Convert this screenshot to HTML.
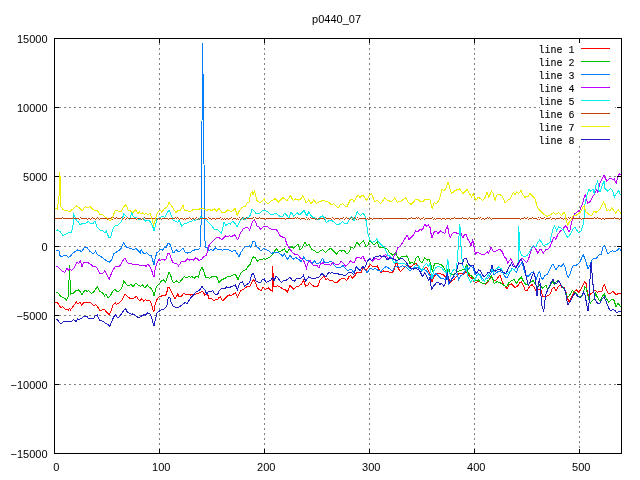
<!DOCTYPE html>
<html><head><meta charset="utf-8"><title>p0440_07</title>
<style>
html,body{margin:0;padding:0;background:#fff;}
body{width:640px;height:480px;overflow:hidden;}
svg{display:block;}
text{font-family:"Liberation Sans",sans-serif;font-size:11px;fill:#000;}
.lg{font-family:"Liberation Mono",monospace;font-size:11.5px;stroke:#000;stroke-width:0.12;}
</style></head><body>
<svg width="640" height="480" viewBox="0 0 640 480">
<rect width="640" height="480" fill="#fff"/>
<g shape-rendering="crispEdges" stroke="#808080" stroke-width="1" stroke-dasharray="2 3" fill="none">
<line x1="54" y1="107.5" x2="622" y2="107.5"/>
<line x1="54" y1="176.5" x2="622" y2="176.5"/>
<line x1="54" y1="246.5" x2="622" y2="246.5"/>
<line x1="54" y1="315.5" x2="622" y2="315.5"/>
<line x1="54" y1="384.5" x2="622" y2="384.5"/>
<line x1="159.5" y1="38" x2="159.5" y2="454"/>
<line x1="264.5" y1="38" x2="264.5" y2="454"/>
<line x1="369.5" y1="38" x2="369.5" y2="454"/>
<line x1="474.5" y1="38" x2="474.5" y2="454"/>
<line x1="579.5" y1="146" x2="579.5" y2="454"/>
</g>
<rect x="540" y="39" width="75" height="107" fill="#fff" shape-rendering="crispEdges"/>
<g shape-rendering="crispEdges" fill="none" stroke-width="1" stroke-linejoin="miter">
<polyline stroke="#ff0000" points="55.5,303.0 57.0,302.0 58.9,304.9 60.8,307.4 62.6,306.8 65.1,309.0 67.0,309.0 68.2,310.2 69.5,308.6 70.5,309.9 72.0,308.0 73.9,305.5 76.4,301.8 78.0,304.2 80.1,302.0 81.8,305.5 83.9,302.0 90.1,302.0 93.2,305.2 95.8,304.9 97.6,306.8 100.1,310.8 102.0,309.9 103.9,309.0 106.4,311.8 109.2,314.9 111.4,309.9 113.2,304.9 115.1,302.8 116.4,304.2 118.9,303.0 121.4,300.8 123.2,297.4 125.1,294.0 127.0,296.1 129.5,298.0 131.4,298.6 133.0,298.8 134.9,297.1 136.8,296.8 138.6,299.6 139.9,300.9 141.8,298.8 143.6,300.9 145.5,299.6 147.4,300.9 149.9,300.9 151.8,304.6 153.0,310.2 154.0,311.5 155.2,304.0 156.8,299.6 159.0,297.1 161.1,296.2 163.2,295.0 164.9,295.9 166.5,294.0 167.8,287.8 169.2,287.1 171.1,291.5 173.0,295.2 175.2,298.8 177.8,294.0 179.2,297.1 181.8,295.9 184.0,293.0 186.1,295.0 188.0,294.0 190.5,295.0 193.0,294.0 195.5,294.2 198.0,293.4 200.5,292.1 203.0,291.8 204.9,295.2 206.1,294.0 207.8,293.9 208.4,298.2 210.9,298.5 212.5,299.2 213.8,301.0 215.9,299.2 217.8,299.8 219.0,297.2 220.5,297.0 222.8,301.0 225.2,298.2 227.1,296.4 229.0,294.8 230.9,295.8 233.4,294.2 235.5,292.6 237.5,297.2 239.6,292.2 241.5,290.1 244.0,288.9 246.5,287.0 249.6,286.4 251.5,283.0 253.4,279.8 255.2,282.0 257.1,287.6 259.0,289.5 260.9,290.8 263.0,287.2 265.2,289.2 268.4,288.0 271.5,290.8 272.3,291.0 272.7,266.1 273.7,286.8 277.8,285.8 280.2,287.0 283.4,289.2 285.0,289.4 287.5,291.9 290.0,285.0 291.9,287.5 293.8,289.4 296.2,286.9 298.8,286.0 301.2,284.4 303.5,280.0 305.6,286.2 307.5,285.6 309.4,282.5 311.2,284.4 313.8,286.2 316.2,286.9 318.1,285.6 320.0,280.0 321.9,278.1 323.8,276.2 325.6,279.4 327.5,278.8 329.4,280.6 331.9,280.0 334.4,282.5 336.9,282.5 340.0,279.4 342.5,278.1 345.0,278.8 346.9,280.6 348.8,276.9 350.6,275.6 352.5,278.1 355.0,275.6 356.9,271.9 358.8,272.7 361.0,272.5 362.9,267.1 364.1,268.4 366.0,270.9 368.5,267.1 370.4,264.6 372.9,267.1 374.8,266.5 377.2,265.9 379.1,269.6 381.0,272.8 383.5,270.9 386.6,271.5 389.8,272.1 392.2,273.0 394.1,269.6 395.4,264.0 397.0,262.8 398.2,268.4 400.4,271.5 402.9,269.0 404.8,267.1 407.2,265.2 409.8,266.5 412.2,265.9 414.5,264.0 416.6,263.8 418.5,266.5 420.4,269.0 422.2,270.9 424.8,268.4 426.6,267.1 428.2,270.2 430.4,274.6 432.0,281.5 434.2,276.8 436.1,273.6 438.6,273.0 441.1,274.2 443.6,274.9 446.1,277.4 448.0,276.1 449.9,282.4 451.8,281.1 454.2,279.2 456.8,276.1 458.6,273.6 461.1,273.0 463.6,274.2 466.1,271.1 468.0,274.2 469.9,276.8 472.4,278.6 474.2,281.8 476.1,282.4 478.0,281.1 480.5,282.4 483.0,283.6 485.5,284.2 488.0,281.8 490.5,277.4 492.4,277.4 494.2,281.1 496.8,279.2 499.9,274.9 501.8,280.5 503.0,283.6 504.9,286.1 507.0,288.6 509.0,285.1 511.5,283.9 513.4,285.8 515.2,287.6 517.8,285.8 519.6,282.6 521.5,282.0 523.4,285.8 525.2,290.1 527.1,290.8 529.6,286.4 532.1,284.5 534.0,287.0 536.5,292.0 539.0,288.9 540.9,290.1 542.8,296.4 545.2,297.0 547.8,295.8 550.2,293.9 552.1,288.9 554.0,287.0 556.2,290.8 558.4,286.4 560.2,285.1 562.1,287.6 564.0,287.6 565.9,292.0 567.8,298.9 569.0,302.0 570.9,298.2 572.8,294.5 574.6,291.4 576.5,290.1 578.4,292.0 580.9,289.5 582.8,285.8 584.7,281.9 586.1,283.6 587.4,292.4 589.0,297.4 590.5,293.6 593.0,292.4 594.9,289.9 597.4,292.4 599.9,291.1 602.0,291.1 603.2,286.1 604.5,284.9 606.1,289.2 608.0,293.0 609.9,294.0 612.8,291.1 614.9,293.6 616.8,294.9 618.2,293.0 619.9,294.0 621.5,292.8"/>
<polyline stroke="#00c000" points="55.5,291.8 57.6,292.4 60.1,295.8 62.6,297.4 64.2,298.0 66.4,299.9 68.5,296.1 69.5,265.0 70.5,294.2 71.3,294.0 73.2,293.2 75.8,290.8 78.9,289.9 82.0,294.5 85.1,289.9 87.0,291.5 88.9,290.8 91.4,293.6 93.9,291.8 97.2,286.8 99.8,291.5 102.6,293.0 104.5,295.8 106.0,294.0 108.2,297.8 110.1,296.1 113.2,290.5 115.1,289.0 116.4,291.1 118.2,291.5 120.8,289.2 122.6,286.1 123.9,280.7 126.4,284.9 128.9,285.8 130.8,284.5 133.2,286.8 135.8,283.0 138.0,285.0 140.5,286.5 142.6,285.0 144.5,287.8 147.4,285.0 149.2,287.5 151.5,288.4 152.8,291.5 154.0,295.9 155.5,289.6 157.0,285.9 159.2,283.8 161.1,281.2 163.6,280.0 165.5,282.1 167.4,276.8 169.0,272.1 170.5,274.6 172.4,281.5 174.2,282.5 176.5,280.9 179.2,283.0 181.8,279.6 184.2,276.8 186.8,277.8 189.0,276.2 190.5,277.1 192.4,276.8 194.2,278.4 196.1,276.5 198.6,277.1 200.2,270.0 202.1,267.1 203.6,270.9 205.5,277.1 208.0,277.8 209.6,278.2 212.1,276.5 215.2,276.1 217.1,277.5 219.0,282.5 221.5,280.0 224.6,278.5 227.1,277.0 230.2,276.6 232.8,275.0 235.2,274.0 238.0,279.5 240.2,274.2 242.8,271.1 245.9,269.5 248.4,266.0 250.5,264.2 252.1,258.6 253.8,256.8 255.5,257.4 257.1,261.5 259.0,259.9 261.5,259.9 264.2,258.6 265.9,259.2 268.4,258.0 270.9,256.1 272.8,254.2 274.6,251.1 276.5,249.0 279.0,252.0 281.5,250.8 284.4,248.8 286.9,253.1 289.4,248.8 291.9,246.5 293.8,248.1 295.6,246.5 297.8,244.0 300.0,250.0 302.5,247.5 305.0,241.9 307.2,246.0 309.0,244.4 311.9,249.4 315.0,251.2 318.1,253.1 320.0,251.2 322.5,249.8 325.6,252.5 328.1,250.0 330.6,248.1 333.1,250.6 336.5,254.0 340.0,250.0 341.9,251.2 343.8,250.0 346.9,253.8 348.8,252.5 351.2,246.9 353.8,248.8 356.9,242.2 359.4,245.0 361.2,242.8 363.5,240.9 366.0,246.5 367.9,245.2 369.8,240.2 371.6,242.1 374.1,245.2 377.2,241.5 379.1,247.1 381.6,247.8 384.8,247.8 387.2,249.0 389.8,252.8 392.9,255.2 396.0,252.1 397.2,256.5 399.1,259.2 401.6,256.5 404.1,256.8 406.6,255.9 407.9,257.8 409.8,263.4 412.2,262.1 414.1,264.0 416.0,257.8 418.2,256.5 420.4,261.5 422.2,262.8 424.8,257.8 427.2,260.2 428.8,259.0 430.8,264.0 432.2,271.5 433.5,267.1 434.9,263.0 437.4,263.6 439.9,264.2 442.4,265.5 444.9,269.9 446.8,273.0 448.6,266.8 449.9,273.6 452.4,274.9 454.9,273.6 457.4,271.8 459.9,270.5 462.4,269.9 464.9,269.2 466.8,264.2 468.0,271.8 469.9,274.9 472.4,276.8 474.2,279.2 476.1,281.1 478.6,279.9 480.5,282.4 483.0,283.6 486.1,283.0 488.0,280.5 489.9,279.2 491.1,275.5 492.4,277.4 494.2,283.6 496.8,281.8 499.2,282.4 501.8,283.6 504.2,285.5 506.8,286.8 509.0,282.6 511.5,280.8 514.0,279.5 516.5,283.2 519.0,279.5 521.2,277.0 523.4,281.4 525.9,284.5 528.4,285.1 530.9,281.4 533.4,280.8 535.2,283.9 537.8,287.0 540.2,284.5 542.1,288.2 544.0,287.0 545.9,285.1 547.8,289.5 549.6,286.4 552.1,281.4 554.6,283.9 557.8,280.1 559.6,282.0 561.5,285.8 563.4,287.6 565.2,290.1 567.1,297.6 569.0,296.4 572.4,290.5 574.2,292.4 576.1,293.0 578.6,296.8 581.1,296.8 583.0,293.0 584.9,286.8 586.1,288.0 587.4,294.2 589.0,299.9 590.5,303.0 592.4,300.5 594.2,299.2 595.5,293.6 597.4,297.4 599.9,301.1 601.8,297.4 604.2,293.6 606.1,298.0 608.6,302.4 611.1,299.9 613.6,299.2 616.1,306.8 618.2,303.0 619.9,306.1 621.5,307.4"/>
<polyline stroke="#0080ff" points="55.5,251.5 57.0,250.0 58.9,250.5 60.1,255.9 62.0,256.5 64.5,255.5 66.4,255.2 68.2,257.5 70.1,256.5 72.6,253.4 75.1,251.5 77.6,250.0 79.5,250.5 81.4,251.5 84.5,247.5 87.2,247.5 89.5,250.9 93.2,253.8 95.5,251.2 97.6,255.0 100.8,256.2 103.9,259.0 107.6,261.5 109.8,262.1 112.0,259.0 113.9,253.4 116.4,252.1 118.2,250.9 120.8,249.0 122.6,244.6 123.9,242.8 126.4,247.1 128.9,248.0 132.0,249.0 133.6,249.2 136.1,248.8 138.6,250.9 140.2,253.4 141.1,249.6 142.4,252.1 144.2,253.8 146.8,252.5 149.2,255.0 151.1,255.2 152.8,260.9 154.0,264.6 155.2,258.4 156.8,252.8 158.6,251.5 160.5,249.6 162.4,250.0 164.2,248.0 166.1,247.5 168.0,243.4 169.5,243.4 171.1,247.1 172.8,252.1 174.0,252.8 176.1,249.6 178.6,251.8 181.1,250.0 183.0,248.0 185.5,252.8 187.4,253.0 188.6,252.1 190.2,253.0 192.4,250.5 194.2,250.2 196.1,249.0 198.0,250.0 199.9,248.0 200.5,247.5 201.5,203.5 202.5,43.5 202.9,73.5 203.5,74.5 204.4,232.5 205.5,247.5 207.1,247.4 208.4,250.5 210.9,249.9 213.4,250.2 215.5,248.0 217.8,249.9 220.2,249.2 222.8,250.2 224.6,249.2 227.1,249.2 230.2,250.5 232.1,251.8 235.0,249.9 237.1,253.6 239.0,256.8 240.9,252.4 243.4,248.6 245.2,246.8 247.8,246.5 249.6,245.8 250.9,247.4 252.8,241.8 254.6,241.1 256.2,246.1 258.4,248.0 260.9,250.8 264.0,248.0 265.9,249.5 268.4,250.5 271.5,253.6 274.0,252.0 275.9,253.0 277.8,252.0 280.2,254.0 282.8,256.1 284.4,254.0 287.5,259.4 290.0,255.0 293.1,259.4 295.6,257.5 298.8,259.4 301.2,261.9 303.8,256.9 306.2,260.6 309.0,260.2 311.9,263.8 314.4,261.0 316.9,263.8 320.0,262.5 322.8,258.1 324.4,262.5 326.9,262.5 329.4,261.9 331.9,261.5 334.4,265.6 336.9,268.1 339.4,267.2 341.2,266.9 343.1,265.6 345.0,268.1 347.5,270.6 350.0,269.4 351.9,270.0 353.8,272.5 355.6,268.8 356.9,266.9 358.8,268.8 360.4,270.2 362.2,267.1 364.8,269.6 367.2,272.8 370.4,268.4 372.9,269.6 375.4,268.4 377.9,270.2 381.0,271.5 384.1,267.8 386.6,266.5 389.1,268.4 392.2,270.9 394.8,267.1 397.2,266.5 399.8,267.1 402.2,265.9 405.4,266.5 407.9,269.0 409.8,270.9 412.2,269.0 414.8,267.8 417.2,267.1 419.8,269.0 421.6,270.9 424.1,269.6 426.6,270.9 428.5,274.0 430.4,275.9 432.2,279.0 434.2,274.9 436.1,273.6 438.6,276.1 441.1,278.6 443.6,278.6 445.5,279.9 446.8,273.0 448.6,283.6 450.5,280.5 453.0,277.4 455.5,275.5 457.4,273.6 458.6,279.9 460.5,276.1 462.4,274.9 464.9,271.1 466.8,266.8 468.6,269.2 470.5,266.1 473.0,267.4 474.9,273.6 476.8,275.5 478.6,273.6 480.5,274.9 482.4,278.6 484.2,280.5 486.8,278.6 488.6,277.4 490.5,274.2 492.4,270.5 494.2,274.9 496.1,273.0 498.6,271.1 500.5,271.8 503.0,273.0 505.5,277.4 507.4,277.4 508.4,275.1 510.2,270.8 512.1,268.2 514.6,270.8 516.5,272.0 518.4,267.0 520.2,265.1 522.1,262.0 524.0,270.1 525.9,275.1 528.4,276.4 530.9,273.2 533.4,272.0 534.6,275.1 536.5,278.9 538.4,273.2 539.6,272.0 541.5,278.2 542.8,279.5 544.6,275.8 547.1,274.5 549.6,270.1 551.5,265.8 553.0,263.9 555.9,270.1 559.0,265.1 560.9,267.0 563.4,263.9 565.2,267.6 566.8,274.6 568.2,277.8 569.9,274.0 571.8,268.4 573.6,265.2 575.5,265.9 578.0,264.0 580.2,262.1 581.8,257.1 583.2,255.0 584.9,258.4 586.5,264.0 588.2,269.0 589.9,265.2 591.8,260.2 593.6,258.4 596.1,259.0 598.6,255.2 601.1,254.6 603.0,247.1 604.2,245.9 605.8,248.4 607.8,253.8 609.9,252.1 612.4,250.9 614.9,251.5 617.4,250.0 619.2,248.4 621.5,250.9"/>
<polyline stroke="#c000ff" points="55.5,266.5 57.6,266.5 60.1,269.2 62.6,271.8 65.1,272.1 67.0,267.8 68.2,270.9 69.5,268.8 71.4,270.5 73.9,268.4 77.0,262.1 78.9,263.4 80.5,260.9 82.0,266.5 83.9,262.5 87.0,262.1 90.1,264.0 93.9,267.1 95.8,266.5 97.6,269.0 100.1,273.8 102.6,273.4 104.8,270.9 107.0,274.6 109.2,279.6 111.4,273.4 113.2,269.6 115.8,266.2 118.2,267.1 120.8,264.6 123.2,260.2 125.1,258.0 127.0,262.1 128.9,263.8 130.8,263.0 133.0,265.0 136.1,264.0 139.2,265.0 141.8,265.9 144.2,265.0 146.1,266.5 148.0,264.0 149.9,266.5 151.5,269.6 153.0,275.2 154.0,276.8 155.2,269.0 156.8,263.4 158.6,259.6 160.5,260.5 162.4,259.2 164.2,260.2 166.1,258.8 168.0,253.4 169.5,253.4 171.1,258.4 173.0,262.8 174.9,263.4 176.1,262.8 178.6,265.9 181.1,262.1 183.0,260.9 184.9,261.5 187.4,259.0 189.2,260.2 191.1,259.0 193.6,260.2 195.5,257.8 197.4,259.0 199.2,260.5 201.8,259.0 204.2,256.2 206.1,255.9 207.5,251.1 209.0,245.5 212.1,241.8 215.9,238.0 219.0,237.4 221.8,239.9 225.9,235.8 227.8,236.8 229.6,235.8 231.5,236.5 234.6,234.9 237.8,239.9 240.2,233.6 243.4,228.6 247.1,227.0 249.6,229.9 252.5,221.8 253.8,220.2 255.2,221.1 257.1,226.1 258.8,226.8 260.2,229.2 264.6,226.1 267.8,227.0 272.1,229.9 275.0,229.0 277.1,230.5 279.6,235.5 282.8,237.1 285.0,238.1 286.9,244.4 289.4,248.1 292.5,252.5 295.0,254.4 297.5,254.4 300.0,257.5 302.5,259.4 304.4,261.9 306.5,268.1 308.1,262.5 309.8,260.2 311.5,263.1 313.8,266.0 316.9,265.2 319.0,268.1 320.6,263.8 323.1,262.8 325.0,264.8 328.1,264.4 330.6,265.2 333.1,262.5 335.6,264.4 338.1,264.8 341.2,261.5 343.8,263.8 345.6,266.2 348.1,263.8 350.6,261.0 352.5,262.2 354.4,262.5 356.2,258.1 358.1,257.2 360.0,258.1 361.0,258.4 362.9,255.9 364.8,260.2 366.6,262.8 369.8,258.4 372.2,261.5 374.8,258.4 377.2,259.0 379.1,260.0 381.6,257.1 384.1,255.2 386.0,254.6 387.5,258.4 389.8,257.8 392.2,259.2 394.1,255.9 396.0,252.8 397.9,247.8 400.4,245.9 402.9,242.1 405.4,237.8 407.0,235.0 409.1,239.6 411.6,237.1 413.5,235.2 415.4,230.9 417.2,232.1 419.8,229.6 421.6,230.2 423.3,228.0 424.8,224.2 426.6,226.1 428.5,224.9 430.0,227.4 430.5,230.9 432.0,238.4 433.6,232.8 436.1,230.9 438.0,233.4 440.5,230.9 443.0,232.8 444.9,233.4 446.1,229.0 447.6,225.9 448.9,234.0 450.2,237.8 451.8,234.6 453.6,232.1 456.1,232.8 458.0,234.0 460.2,231.5 461.5,234.6 462.8,237.8 464.2,235.2 466.1,234.0 468.0,239.6 469.9,242.8 471.1,245.9 472.8,239.6 474.0,246.5 475.5,254.0 477.4,252.1 479.9,253.4 482.4,254.6 484.9,254.0 487.4,252.1 488.6,253.4 491.1,247.1 493.0,250.9 494.9,251.5 497.4,250.2 499.9,249.0 502.4,252.1 504.2,256.5 506.1,258.4 508.0,263.4 509.2,260.9 510.9,258.8 513.4,263.8 515.2,267.5 517.8,265.0 519.6,261.9 522.1,258.1 524.6,260.6 526.5,262.5 528.4,259.4 530.2,253.8 532.1,248.1 533.8,245.6 535.9,249.4 537.8,253.1 540.0,248.8 541.5,250.0 543.4,253.1 545.9,249.4 547.8,249.4 550.2,246.2 552.1,241.2 554.0,236.9 555.9,239.4 557.8,234.4 560.2,231.2 562.8,229.4 565.2,225.6 567.1,227.5 568.4,231.2 569.6,231.9 571.5,222.5 573.4,217.5 574.9,213.6 577.4,211.8 579.9,209.9 582.4,204.2 584.2,196.8 585.5,194.9 586.5,198.0 587.4,203.6 590.5,201.1 592.4,196.8 594.9,193.6 596.8,189.5 598.0,192.4 599.9,183.0 601.8,179.2 604.0,174.9 605.2,178.0 606.8,181.1 609.9,178.0 612.4,179.2 614.2,179.0 616.1,183.6 618.2,175.5 619.9,173.6 621.5,176.1"/>
<polyline stroke="#00eeee" points="55.5,231.1 57.6,229.9 60.1,231.8 63.0,235.5 65.8,234.2 68.2,233.0 71.4,232.8 73.2,224.2 73.9,214.9 75.1,217.4 76.4,220.5 78.2,221.8 80.1,224.9 82.6,223.2 86.4,223.0 88.2,221.1 90.8,223.6 93.2,223.2 95.1,221.1 97.0,226.8 99.5,229.9 102.6,230.5 105.1,233.0 106.4,231.1 108.9,238.0 110.8,236.8 113.2,228.0 115.8,225.5 118.2,224.9 121.4,221.8 123.9,213.6 127.0,216.8 129.5,219.2 131.8,213.0 133.2,216.8 136.1,217.4 138.0,219.2 140.5,219.9 143.0,218.6 145.5,221.1 148.0,219.9 150.5,221.8 152.4,225.5 154.0,230.8 155.5,225.5 156.8,219.2 158.6,218.6 161.1,216.8 163.0,216.1 164.9,217.4 166.8,213.6 169.0,209.9 171.1,214.9 173.0,219.9 175.5,221.1 177.4,222.4 179.2,220.5 181.8,226.1 183.6,224.2 186.1,223.6 189.6,221.8 192.1,221.1 193.4,219.9 195.2,220.5 197.1,219.2 199.0,219.2 200.9,216.8 202.8,218.0 205.2,218.6 207.1,221.1 209.6,223.6 212.1,226.1 214.6,229.9 217.1,229.5 219.0,231.0 221.5,233.0 222.9,227.5 224.0,221.8 225.9,225.5 228.4,223.6 230.2,224.2 232.8,221.1 234.6,223.0 237.1,226.8 240.2,220.5 243.4,217.8 244.0,219.9 246.5,218.6 248.4,217.4 250.2,215.5 252.1,209.0 254.0,211.1 256.5,214.0 259.0,213.6 262.8,210.5 266.5,211.1 269.0,213.0 270.9,214.9 274.0,214.0 276.5,213.2 279.0,215.8 282.1,217.0 285.0,213.0 288.8,218.0 291.2,212.0 293.8,216.5 297.5,212.8 299.4,214.9 304.0,210.5 306.9,216.1 308.8,211.8 311.9,216.8 313.8,217.4 315.6,219.2 318.8,219.9 320.6,216.5 322.5,215.8 324.4,218.0 326.2,222.4 329.4,220.5 331.2,219.9 334.4,222.4 336.9,224.9 339.4,224.2 342.5,221.8 344.4,223.6 346.9,224.0 350.0,218.6 351.9,216.8 354.0,220.5 357.2,211.8 360.4,215.5 362.9,213.0 364.8,215.5 366.0,220.5 367.0,226.5 367.9,234.0 369.8,239.6 372.2,242.1 374.8,241.5 376.6,239.0 379.1,242.8 381.6,245.2 384.1,247.1 386.0,250.9 387.9,255.2 390.4,256.5 392.2,259.0 394.1,263.4 396.0,261.5 398.5,263.4 401.6,264.0 404.1,263.4 406.6,264.6 408.5,267.8 411.0,269.0 413.5,267.8 415.4,265.9 417.9,264.6 419.8,267.8 422.2,270.2 424.1,265.9 426.6,263.4 428.5,266.5 429.8,264.0 431.0,272.8 432.0,279.0 433.6,271.1 436.1,267.4 438.6,266.1 441.8,268.0 444.2,271.1 446.1,272.4 447.8,259.2 449.0,271.8 450.5,275.5 452.4,271.1 454.2,269.2 456.1,271.1 457.5,258.0 458.7,240.5 459.9,224.5 461.0,245.5 462.4,264.2 464.2,268.6 466.1,268.0 468.0,276.8 470.5,282.4 472.4,279.2 474.2,281.1 476.1,277.4 478.0,274.2 479.9,275.5 481.8,279.9 484.2,281.1 486.8,277.4 489.2,273.6 491.8,269.2 493.6,271.8 496.1,269.2 498.6,266.8 501.1,268.6 503.6,273.0 506.1,274.2 508.6,272.4 510.5,271.1 512.5,268.5 514.5,270.0 516.5,266.5 518.1,262.5 518.8,226.5 519.5,246.5 520.2,252.5 522.1,255.6 524.6,256.9 527.1,255.6 529.6,251.9 531.5,247.5 533.4,245.6 535.9,246.9 537.8,242.5 539.6,240.0 541.5,241.9 543.4,245.6 545.9,244.4 548.4,243.8 550.2,241.9 551.5,234.4 553.4,228.1 554.6,225.6 556.5,230.6 558.4,226.9 560.9,228.1 563.4,230.0 565.9,235.0 567.8,237.5 570.2,234.4 572.8,229.4 575.0,226.9 577.1,230.6 579.0,233.1 580.9,231.2 582.8,226.2 584.0,218.8 584.9,204.2 586.8,195.5 589.0,189.5 590.5,191.1 593.0,189.2 594.2,193.2 596.1,184.9 597.8,181.1 598.6,189.9 600.2,191.8 602.4,184.9 604.0,181.1 604.9,188.6 607.4,191.1 610.5,188.6 612.4,190.5 614.5,197.0 616.8,193.0 618.6,190.5 620.2,194.2 621.5,194.9"/>
<path stroke="#c04000" d="M55 218.5h7M62 217.5h1M63 218.5h10M73 217.5h1M74 218.5h5M79 219.5h1M80 217.5h1M81 218.5h6M87 219.5h1M88 218.5h2M90 219.5h1M91 218.5h1M92 217.5h1M93 218.5h2M95 219.5h1M96 218.5h1M97 217.5h1M98 218.5h1M99 219.5h1M100 218.5h7M107 219.5h1M108 218.5h3M111 217.5h1M112 219.5h1M113 217.5h1M114 218.5h2M116 217.5h1M117 218.5h4M121 217.5h1M122 219.5h1M123 218.5h1M124 217.5h1M125 219.5h1M126 218.5h1M127 217.5h1M128 218.5h8M136 219.5h1M137 218.5h4M141 219.5h1M142 218.5h1M143 219.5h1M144 217.5h1M145 218.5h6M151 217.5h1M152 218.5h5M157 219.5h1M158 218.5h3M161 219.5h1M162 218.5h6M168 219.5h1M169 218.5h6M175 217.5h1M176 218.5h1M177 217.5h1M178 218.5h1M179 219.5h1M180 218.5h3M183 219.5h1M184 218.5h1M185 219.5h1M186 218.5h3M189 217.5h1M190 218.5h1M191 219.5h1M192 218.5h2M194 219.5h1M195 218.5h1M196 217.5h1M197 219.5h1M198 218.5h1M199 219.5h1M200 218.5h7M207 219.5h1M208 217.5h1M209 218.5h2M211 219.5h1M212 218.5h3M215 219.5h1M216 218.5h4M220 217.5h1M221 219.5h1M222 218.5h1M223 219.5h1M224 218.5h1M225 219.5h1M226 218.5h2M228 219.5h1M229 218.5h2M231 217.5h1M232 219.5h1M233 218.5h3M236 219.5h1M237 218.5h1M238 219.5h1M239 217.5h1M240 219.5h1M241 218.5h1M242 217.5h1M243 219.5h1M244 218.5h2M246 217.5h1M247 218.5h6M253 217.5h1M254 219.5h1M255 217.5h1M256 218.5h3M259 217.5h1M260 218.5h5M265 219.5h1M266 218.5h19M285 219.5h1M286 218.5h9M295 217.5h1M296 218.5h1M297 217.5h1M298 218.5h2M300 219.5h1M301 218.5h4M305 219.5h1M306 217.5h1M307 219.5h1M308 218.5h1M309 219.5h1M310 217.5h1M311 218.5h4M315 219.5h1M316 218.5h1M317 219.5h1M318 218.5h6M324 219.5h1M325 217.5h1M326 218.5h5M331 219.5h1M332 217.5h1M333 218.5h1M334 219.5h1M335 218.5h4M339 219.5h1M340 218.5h3M343 217.5h1M344 219.5h1M345 218.5h1M346 217.5h1M347 218.5h2M349 219.5h1M350 218.5h1M351 217.5h1M352 219.5h1M353 218.5h1M354 217.5h1M355 218.5h1M356 219.5h1M357 217.5h1M358 219.5h1M359 218.5h7M366 219.5h1M367 218.5h1M368 219.5h1M369 217.5h1M370 218.5h2M372 219.5h1M373 218.5h9M382 219.5h1M383 218.5h24M407 219.5h1M408 218.5h3M411 217.5h1M412 218.5h4M416 217.5h1M417 218.5h1M418 217.5h1M419 218.5h1M420 219.5h1M421 218.5h2M423 217.5h1M424 219.5h1M425 218.5h7M432 217.5h1M433 219.5h1M434 218.5h1M435 219.5h1M436 218.5h5M441 219.5h1M442 218.5h3M445 219.5h1M446 218.5h4M450 219.5h1M451 218.5h3M454 217.5h1M455 218.5h7M462 217.5h1M463 218.5h4M467 219.5h1M468 218.5h1M469 217.5h1M470 218.5h4M474 219.5h1M475 218.5h3M478 217.5h1M479 218.5h1M480 217.5h1M481 219.5h1M482 218.5h2M484 219.5h1M485 218.5h2M487 217.5h1M488 218.5h1M489 217.5h1M490 218.5h1M491 219.5h1M492 218.5h28M520 219.5h1M521 218.5h3M524 217.5h1M525 218.5h2M527 217.5h1M528 219.5h1M529 218.5h3M532 217.5h1M533 218.5h4M537 219.5h1M538 217.5h1M539 219.5h1M540 217.5h1M541 218.5h3M544 217.5h1M545 219.5h1M546 218.5h4M550 217.5h1M551 219.5h1M552 218.5h3M555 219.5h1M556 218.5h4M560 217.5h1M561 218.5h2M563 219.5h1M564 218.5h3M567 219.5h1M568 217.5h1M569 218.5h1M570 217.5h1M571 218.5h10M581 219.5h1M582 218.5h12M594 217.5h1M595 218.5h2M597 217.5h1M598 218.5h3M601 219.5h1M602 218.5h2M604 219.5h1M605 218.5h9M614 217.5h1M615 218.5h4M619 219.5h1M620 218.5h1"/>
<polyline stroke="#eeee00" points="55.5,208.0 57.2,209.2 58.9,199.2 59.9,172.5 61.0,206.8 63.2,209.9 66.4,210.5 70.1,211.5 73.2,208.6 76.0,205.8 78.9,207.4 82.2,210.8 85.1,206.8 87.6,207.8 89.9,206.5 92.0,208.6 94.5,210.5 97.0,209.9 100.1,214.9 102.6,214.5 104.5,216.5 107.0,218.2 109.5,220.8 111.4,219.9 115.1,210.9 117.0,210.5 118.9,211.8 121.4,211.1 123.9,206.5 126.0,204.6 128.2,210.2 130.8,211.1 132.6,212.8 135.8,209.9 138.0,213.6 139.2,211.8 141.1,214.2 142.4,213.0 144.2,214.2 146.1,213.6 148.0,214.9 149.9,213.0 151.8,218.6 153.6,225.5 154.9,221.8 156.8,214.2 158.6,211.1 160.5,210.5 161.8,212.4 164.2,208.6 166.8,207.4 169.0,202.6 171.1,204.9 173.6,209.2 176.1,212.8 178.0,209.9 179.9,211.1 183.0,204.9 184.5,210.5 187.4,210.8 189.2,212.0 191.8,210.5 194.2,209.0 198.0,209.9 201.1,208.0 204.2,209.2 206.8,210.5 209.0,209.2 211.5,210.5 214.6,209.0 216.5,211.1 219.0,208.6 222.1,212.8 224.6,213.0 227.8,209.9 230.9,211.5 233.4,210.5 235.0,207.8 237.1,215.5 239.2,211.1 242.1,207.4 244.0,206.5 245.2,207.0 247.1,203.0 249.0,201.8 250.9,193.0 252.1,191.8 253.0,194.5 254.6,191.1 255.9,196.8 257.1,200.8 260.2,202.8 264.2,198.6 265.2,201.1 267.8,204.0 270.9,201.1 275.2,198.6 278.4,202.0 283.0,197.4 286.9,200.8 290.6,195.8 293.1,200.5 295.6,199.0 298.1,200.2 300.6,199.0 302.8,195.8 306.2,202.8 308.8,199.9 311.2,204.0 313.8,199.5 316.2,203.6 319.4,202.0 322.5,200.5 325.6,201.1 329.4,202.8 331.2,204.9 333.8,203.6 338.1,208.0 340.6,204.5 342.5,203.6 345.0,206.1 346.9,206.8 350.0,200.5 351.9,199.0 354.0,201.5 358.1,194.9 360.0,197.4 362.9,194.9 366.6,200.2 369.8,194.9 371.6,194.0 374.8,201.8 377.2,200.5 380.8,203.6 384.8,197.8 387.2,200.5 391.6,201.5 394.8,197.8 397.2,202.4 401.0,201.1 405.8,197.8 407.9,201.8 411.0,204.5 415.4,199.9 417.9,199.5 420.4,201.8 422.9,201.5 425.4,199.0 427.9,199.9 429.8,199.2 432.2,208.6 434.1,202.8 436.8,203.6 439.5,199.2 442.0,189.2 443.9,190.8 445.8,188.6 448.0,182.0 449.5,186.8 451.4,193.6 453.2,192.4 455.1,190.5 459.5,189.0 463.2,193.6 467.0,189.2 471.4,196.8 473.2,193.6 475.8,200.5 478.2,197.0 482.6,200.5 485.1,197.4 487.0,192.4 488.9,197.4 491.4,190.8 493.2,193.6 495.1,200.5 496.4,195.2 500.1,194.5 502.6,196.8 505.1,202.8 508.2,199.9 510.5,198.6 512.4,194.2 513.6,192.4 514.9,194.9 516.8,191.8 518.6,193.6 521.1,190.5 523.0,194.9 524.9,197.4 526.8,196.1 528.0,197.0 529.9,193.6 534.9,198.6 537.4,207.4 540.5,211.1 543.6,214.2 547.4,216.5 551.1,214.2 553.6,212.8 555.5,214.5 558.6,212.4 561.8,215.5 564.0,212.0 565.0,213.8 566.2,221.2 567.8,225.0 569.6,221.2 571.5,219.4 573.0,216.1 576.8,214.9 579.9,212.8 582.4,208.0 584.2,205.8 585.5,211.8 587.4,212.4 588.6,214.5 591.8,215.5 594.2,211.1 596.1,212.4 600.5,208.6 603.4,201.8 604.9,204.2 606.8,210.5 608.6,209.9 609.9,210.5 611.8,207.8 615.5,213.0 618.2,209.9 621.5,214.2"/>
<polyline stroke="#2020c0" points="55.5,320.5 57.0,319.0 58.9,321.8 60.8,324.0 63.2,321.8 67.0,321.8 71.4,321.8 73.2,319.9 75.1,320.2 76.0,321.8 77.6,319.0 78.9,319.5 82.0,318.0 83.9,316.1 86.8,316.1 88.2,318.6 90.1,318.0 92.0,319.0 93.9,318.0 95.1,315.8 97.2,314.9 99.5,320.2 102.6,321.1 105.1,323.0 107.6,324.2 109.8,326.1 111.8,321.1 113.5,317.4 115.1,314.5 116.4,316.1 118.2,318.0 120.8,314.9 123.2,311.1 125.5,308.6 127.6,312.8 129.5,313.2 131.4,314.5 133.0,313.8 136.1,315.9 138.6,317.8 141.8,315.9 144.2,314.6 145.5,315.2 147.4,313.0 149.9,314.0 151.8,317.8 153.0,323.4 154.0,325.9 155.2,320.2 156.8,313.4 158.6,311.5 161.1,310.0 163.6,309.2 165.5,307.8 166.8,305.9 168.2,297.8 169.9,297.5 171.1,302.1 173.0,306.2 175.5,307.1 177.4,307.8 179.9,306.5 182.4,304.6 184.9,302.8 187.4,303.4 189.9,299.0 192.4,295.9 194.9,293.4 196.8,291.5 198.6,290.9 200.5,289.0 202.1,286.2 203.6,288.8 205.2,290.2 206.5,294.0 208.4,291.8 210.9,291.4 212.8,290.8 215.2,294.5 217.5,294.5 219.6,290.1 222.1,288.2 224.6,288.9 226.5,287.0 228.8,288.0 230.9,286.8 233.4,286.0 235.2,284.8 237.4,289.5 239.6,283.2 242.5,282.0 244.6,286.0 247.1,284.5 249.6,282.2 251.5,275.1 253.1,273.0 254.6,276.4 255.9,280.8 258.4,282.2 260.2,283.0 262.5,279.5 264.2,278.9 266.2,282.6 268.4,281.4 270.9,280.1 272.8,277.6 274.2,280.8 275.9,276.0 278.4,278.5 281.2,282.6 283.4,280.8 285.6,280.6 287.5,279.4 290.0,276.9 292.5,280.6 294.4,281.2 296.9,278.1 299.4,279.0 301.2,278.1 303.5,275.2 305.6,281.2 308.8,276.9 311.2,278.1 313.8,278.8 316.9,277.5 319.4,276.9 321.9,273.1 323.8,275.6 326.2,276.2 328.8,272.5 330.6,273.1 331.9,272.2 333.8,273.8 336.2,273.1 339.4,274.4 342.5,275.0 345.6,275.2 348.8,272.2 351.2,272.5 353.8,274.4 356.2,266.9 358.1,268.9 359.8,270.2 362.9,266.5 364.8,267.8 367.2,261.5 369.8,258.8 371.6,260.5 374.1,257.5 377.2,256.2 380.4,255.9 382.9,257.1 385.4,256.5 387.2,260.0 389.8,257.8 392.2,258.4 394.8,259.6 396.6,260.9 398.5,259.6 401.0,258.4 403.5,259.2 406.6,262.8 408.5,266.5 411.0,268.4 413.5,269.0 416.0,268.4 418.5,269.6 420.4,272.1 422.2,276.5 424.8,272.8 426.6,275.9 428.8,280.2 430.0,277.1 431.0,286.1 431.8,289.2 433.6,286.1 436.1,283.0 438.0,281.8 439.9,284.2 441.8,283.6 443.6,286.1 445.5,283.0 447.4,272.4 449.2,283.6 451.1,280.5 453.6,275.5 456.1,273.0 458.6,263.0 460.5,263.6 462.4,264.2 464.0,258.6 466.1,258.0 467.8,262.4 469.2,264.9 471.1,265.5 473.0,264.9 474.9,271.1 476.8,273.6 478.6,269.9 480.5,270.5 482.4,274.9 484.2,276.8 486.1,274.9 488.0,272.4 489.9,272.4 492.0,265.5 493.6,270.5 495.5,271.1 498.0,269.2 500.5,269.9 503.0,271.8 505.5,273.6 507.0,271.5 509.0,267.0 511.5,263.2 513.4,266.4 515.9,267.6 518.4,262.6 520.9,258.9 522.8,262.0 524.6,268.2 526.5,278.2 528.4,285.1 530.2,281.4 532.1,275.8 534.0,272.6 535.5,279.5 537.1,296.4 538.4,283.2 539.6,278.2 540.9,294.5 542.1,307.0 543.8,311.4 544.6,302.0 545.9,294.5 547.8,289.5 549.6,285.8 551.5,281.4 553.0,279.5 554.6,283.2 556.5,283.9 558.4,280.8 560.2,283.2 562.1,287.0 564.0,287.6 565.5,292.0 566.8,300.1 568.0,304.5 569.6,302.6 571.5,298.9 573.4,295.1 575.2,293.2 577.8,296.4 579.6,297.6 581.8,296.8 583.6,291.8 584.9,294.9 586.5,303.0 588.0,311.1 589.2,301.8 590.2,274.2 591.1,262.1 592.4,278.0 593.6,290.5 594.9,299.2 597.4,303.0 599.9,303.0 602.4,298.6 604.2,296.8 606.1,301.1 608.6,308.0 611.1,311.1 613.0,309.2 614.9,310.5 616.8,313.0 618.6,311.1 621.5,311.8"/>
</g>
<g shape-rendering="crispEdges" stroke="#000" stroke-width="1" fill="none">
<rect x="54.5" y="38.5" width="567" height="415"/>
<line x1="159.5" y1="449" x2="159.5" y2="453"/>
<line x1="159.5" y1="39" x2="159.5" y2="43"/>
<line x1="264.5" y1="449" x2="264.5" y2="453"/>
<line x1="264.5" y1="39" x2="264.5" y2="43"/>
<line x1="369.5" y1="449" x2="369.5" y2="453"/>
<line x1="369.5" y1="39" x2="369.5" y2="43"/>
<line x1="474.5" y1="449" x2="474.5" y2="453"/>
<line x1="474.5" y1="39" x2="474.5" y2="43"/>
<line x1="579.5" y1="449" x2="579.5" y2="453"/>
<line x1="579.5" y1="39" x2="579.5" y2="43"/>
<line x1="55" y1="107.5" x2="59" y2="107.5"/>
<line x1="617" y1="107.5" x2="621" y2="107.5"/>
<line x1="55" y1="176.5" x2="59" y2="176.5"/>
<line x1="617" y1="176.5" x2="621" y2="176.5"/>
<line x1="55" y1="246.5" x2="59" y2="246.5"/>
<line x1="617" y1="246.5" x2="621" y2="246.5"/>
<line x1="55" y1="315.5" x2="59" y2="315.5"/>
<line x1="617" y1="315.5" x2="621" y2="315.5"/>
<line x1="55" y1="384.5" x2="59" y2="384.5"/>
<line x1="617" y1="384.5" x2="621" y2="384.5"/>
</g>
<g shape-rendering="crispEdges" stroke-width="1" fill="none">
<line stroke="#ff0000" x1="581" y1="48.5" x2="610" y2="48.5"/>
<line stroke="#00c000" x1="581" y1="61.5" x2="610" y2="61.5"/>
<line stroke="#0080ff" x1="581" y1="74.5" x2="610" y2="74.5"/>
<line stroke="#c000ff" x1="581" y1="87.5" x2="610" y2="87.5"/>
<line stroke="#00eeee" x1="581" y1="100.5" x2="610" y2="100.5"/>
<line stroke="#c04000" x1="581" y1="113.5" x2="610" y2="113.5"/>
<line stroke="#eeee00" x1="581" y1="126.5" x2="610" y2="126.5"/>
<line stroke="#2020c0" x1="581" y1="139.5" x2="610" y2="139.5"/>
</g>
<g style="filter:grayscale(1)">
<text class="lg" text-anchor="end" transform="translate(574.4,53) scale(0.8696,1)">line 1</text>
<text class="lg" text-anchor="end" transform="translate(574.4,66) scale(0.8696,1)">line 2</text>
<text class="lg" text-anchor="end" transform="translate(574.4,79) scale(0.8696,1)">line 3</text>
<text class="lg" text-anchor="end" transform="translate(574.4,92) scale(0.8696,1)">line 4</text>
<text class="lg" text-anchor="end" transform="translate(574.4,105) scale(0.8696,1)">line 5</text>
<text class="lg" text-anchor="end" transform="translate(574.4,118) scale(0.8696,1)">line 6</text>
<text class="lg" text-anchor="end" transform="translate(574.4,131) scale(0.8696,1)">line 7</text>
<text class="lg" text-anchor="end" transform="translate(574.4,144) scale(0.8696,1)">line 8</text>
<text text-anchor="end" x="47.5" y="42.6">15000</text>
<text text-anchor="end" x="47.5" y="111.6">10000</text>
<text text-anchor="end" x="47.5" y="180.6">5000</text>
<text text-anchor="end" x="47.5" y="250.6">0</text>
<text text-anchor="end" x="47.5" y="319.6">−5000</text>
<text text-anchor="end" x="47.5" y="388.6">−10000</text>
<text text-anchor="end" x="47.5" y="457.6">−15000</text>
<text text-anchor="middle" x="56.3" y="471.2">0</text>
<text text-anchor="middle" x="161.3" y="471.2">100</text>
<text text-anchor="middle" x="266.3" y="471.2">200</text>
<text text-anchor="middle" x="371.3" y="471.2">300</text>
<text text-anchor="middle" x="476.3" y="471.2">400</text>
<text text-anchor="middle" x="581.3" y="471.2">500</text>
<text text-anchor="middle" x="336.6" y="22.8">p0440_07</text>
</g>
</svg>
</body></html>
